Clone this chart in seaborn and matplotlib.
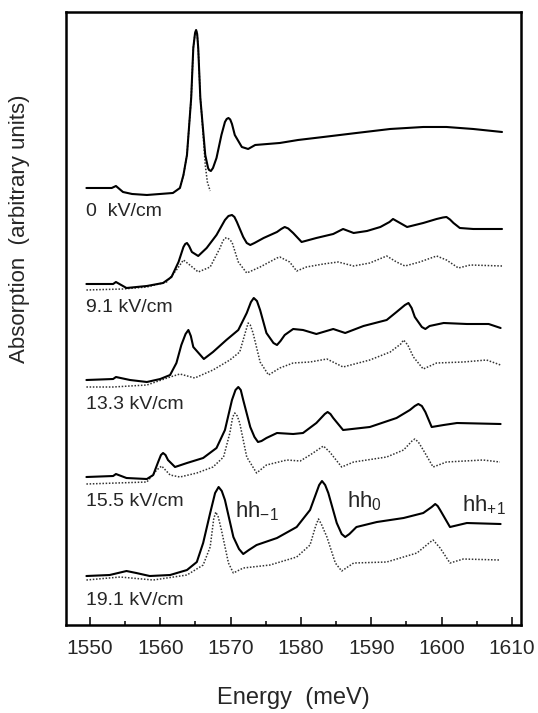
import matplotlib
matplotlib.use("Agg")
import matplotlib.pyplot as plt
from matplotlib.ticker import MultipleLocator
import seaborn as sns
import numpy as np

# field strengths and vertical offsets of the stacked spectra
fields = ["0  kV/cm", "9.1 kV/cm", "13.3 kV/cm", "15.5 kV/cm", "19.1 kV/cm"]
offsets = [4.37, 3.41, 2.45, 1.48, 0.49]

# 0 kV/cm
e0_solid = [1549.5, 1553.1, 1553.7, 1554.7, 1556.0, 1558.1, 1561.8, 1562.8, 1563.3, 1563.8,
            1564.4, 1564.7, 1564.95, 1565.1, 1565.25, 1565.4, 1565.7, 1566.4, 1566.8, 1566.95,
            1567.2, 1567.5, 1568.0, 1568.7, 1569.2, 1569.45, 1569.7, 1569.95, 1570.2, 1570.6,
            1571.6, 1572.5, 1573.5, 1577.0, 1579.6, 1583.2, 1587.9, 1592.7, 1597.4, 1600.7,
            1604.5, 1608.6]
a0_solid = [0.00, 0.00, 0.02, -0.04, -0.06, -0.07, -0.05, 0.00, 0.13, 0.33,
            0.90, 1.40, 1.55, 1.58, 1.54, 1.40, 0.90, 0.33, 0.20, 0.18,
            0.17, 0.20, 0.30, 0.53, 0.66, 0.69, 0.70, 0.685, 0.64, 0.53,
            0.41, 0.39, 0.43, 0.45, 0.48, 0.51, 0.55, 0.59, 0.61, 0.61,
            0.59, 0.56]
e0_dot = [1562.8, 1563.3, 1563.8, 1564.4, 1564.7, 1564.95, 1565.1, 1565.25, 1565.4, 1565.7,
          1565.9, 1566.4, 1566.7, 1567.1]
a0_dot = [0.00, 0.13, 0.33, 0.90, 1.40, 1.55, 1.58, 1.54, 1.40, 0.90,
          0.73, 0.23, 0.06, -0.03]

# 9.1 kV/cm
e1_solid = [1549.5, 1553.3, 1553.7, 1555.2, 1558.1, 1560.4, 1561.6, 1562.6, 1563.3, 1563.55,
            1563.8, 1564.1, 1564.5, 1565.4, 1566.6, 1568.0, 1569.2, 1569.7, 1570.2, 1570.55,
            1570.9, 1571.8, 1572.3, 1572.8, 1573.4, 1574.7, 1576.6, 1577.2, 1577.7, 1578.2,
            1578.9, 1580.1, 1582.2, 1584.6, 1586.0, 1587.5, 1589.4, 1591.3, 1592.6, 1593.1,
            1593.6, 1594.1, 1595.1, 1597.4, 1599.3, 1600.2, 1600.7, 1601.2, 1601.7, 1602.6,
            1604.5, 1608.6]
a1_solid = [0.00, 0.00, 0.02, -0.04, -0.02, 0.01, 0.07, 0.22, 0.37, 0.40,
            0.41, 0.38, 0.32, 0.28, 0.36, 0.49, 0.64, 0.68, 0.69, 0.67,
            0.62, 0.47, 0.41, 0.39, 0.41, 0.46, 0.52, 0.55, 0.57, 0.555,
            0.51, 0.42, 0.46, 0.50, 0.55, 0.51, 0.53, 0.57, 0.62, 0.65,
            0.63, 0.61, 0.57, 0.61, 0.65, 0.665, 0.67, 0.645, 0.61, 0.56,
            0.55, 0.55]
e1_dot = [1549.5, 1554.7, 1558.1, 1560.9, 1562.3, 1563.3, 1564.2, 1565.4, 1567.1, 1568.5,
          1568.9, 1569.2, 1569.6, 1570.2, 1571.1, 1572.3, 1574.2, 1576.6, 1577.0, 1578.4,
          1579.4, 1580.8, 1583.2, 1585.3, 1587.5, 1589.8, 1592.2, 1593.6, 1594.8, 1596.9,
          1599.3, 1600.7, 1602.4, 1604.1, 1608.6]
a1_dot = [-0.06, -0.05, -0.03, 0.02, 0.14, 0.24, 0.19, 0.12, 0.17, 0.36,
          0.43, 0.46, 0.46, 0.42, 0.22, 0.11, 0.17, 0.26, 0.27, 0.22,
          0.13, 0.17, 0.20, 0.22, 0.18, 0.21, 0.28, 0.22, 0.18, 0.22,
          0.28, 0.24, 0.16, 0.19, 0.18]

# 13.3 kV/cm
e2_solid = [1549.5, 1553.3, 1553.7, 1555.7, 1558.1, 1560.0, 1561.4, 1562.3, 1563.0, 1563.6,
            1564.0, 1564.35, 1564.7, 1566.2, 1567.5, 1569.4, 1571.1, 1572.3, 1572.9, 1573.3,
            1573.75, 1574.2, 1575.1, 1576.1, 1576.6, 1577.1, 1577.7, 1578.9, 1580.3, 1582.2,
            1584.6, 1586.3, 1588.9, 1592.2, 1593.6, 1594.8, 1595.3, 1595.75, 1596.2, 1597.2,
            1597.7, 1598.3, 1600.3, 1603.6, 1606.7, 1608.4]
a2_solid = [0.00, 0.01, 0.03, 0.00, -0.02, 0.01, 0.05, 0.17, 0.35, 0.46,
            0.50, 0.44, 0.33, 0.21, 0.28, 0.40, 0.50, 0.67, 0.78, 0.82,
            0.79, 0.70, 0.47, 0.37, 0.35, 0.39, 0.45, 0.51, 0.50, 0.46,
            0.51, 0.47, 0.54, 0.60, 0.68, 0.75, 0.77, 0.72, 0.63, 0.53,
            0.51, 0.54, 0.57, 0.56, 0.56, 0.52]
e2_dot = [1549.5, 1553.3, 1558.1, 1561.4, 1562.8, 1564.9, 1567.5, 1569.9, 1571.3, 1572.2,
          1572.5, 1572.8, 1573.2, 1574.2, 1575.4, 1577.0, 1578.9, 1581.3, 1583.7, 1586.0,
          1589.8, 1592.7, 1594.2, 1594.6, 1595.2, 1596.0, 1597.4, 1599.3, 1603.1, 1606.4,
          1608.4]
a2_dot = [-0.07, -0.07, -0.05, 0.03, 0.06, 0.02, 0.10, 0.20, 0.28, 0.50,
          0.57, 0.55, 0.47, 0.18, 0.05, 0.12, 0.17, 0.18, 0.21, 0.13,
          0.20, 0.28, 0.36, 0.40, 0.35, 0.23, 0.11, 0.17, 0.18, 0.20,
          0.15]

# 15.5 kV/cm
e3_solid = [1549.5, 1553.3, 1553.7, 1555.2, 1558.1, 1559.0, 1559.7, 1560.1, 1560.4, 1560.75,
            1561.1, 1562.1, 1563.8, 1566.1, 1568.0, 1569.2, 1570.2, 1570.7, 1571.1, 1571.45,
            1571.8, 1572.8, 1573.4, 1573.9, 1574.4, 1575.1, 1576.6, 1578.9, 1580.3, 1582.2,
            1583.4, 1583.8, 1584.2, 1584.6, 1586.0, 1589.8, 1593.6, 1595.5, 1596.2, 1596.7,
            1597.2, 1597.7, 1598.6, 1600.3, 1602.2, 1608.4]
a3_solid = [0.00, 0.01, 0.03, -0.01, -0.02, 0.02, 0.15, 0.22, 0.24, 0.22,
            0.17, 0.10, 0.14, 0.19, 0.29, 0.47, 0.77, 0.87, 0.90, 0.87,
            0.77, 0.50, 0.40, 0.35, 0.36, 0.39, 0.44, 0.43, 0.44, 0.54,
            0.63, 0.65, 0.63, 0.59, 0.47, 0.50, 0.59, 0.67, 0.71, 0.73,
            0.71, 0.65, 0.50, 0.52, 0.54, 0.53]
e3_dot = [1549.5, 1558.1, 1559.5, 1560.2, 1561.4, 1562.8, 1565.2, 1567.5, 1569.0, 1569.9,
          1570.3, 1570.6, 1570.95, 1571.3, 1572.3, 1573.7, 1575.1, 1578.0, 1579.9, 1581.3,
          1583.2, 1584.1, 1585.8, 1587.5, 1592.2, 1594.6, 1595.8, 1596.2, 1596.7, 1597.4,
          1598.8, 1600.7, 1605.9, 1608.3]
a3_dot = [-0.07, -0.05, 0.07, 0.11, 0.02, 0.00, 0.04, 0.10, 0.20, 0.44,
          0.60, 0.64, 0.61, 0.54, 0.20, 0.04, 0.12, 0.17, 0.16, 0.22,
          0.31, 0.25, 0.10, 0.15, 0.20, 0.27, 0.36, 0.38, 0.35, 0.27,
          0.10, 0.15, 0.17, 0.15]

# 19.1 kV/cm
e4_solid = [1549.5, 1552.8, 1555.2, 1556.6, 1558.5, 1561.4, 1563.8, 1565.2, 1566.1, 1567.1,
            1567.8, 1568.3, 1568.75, 1569.2, 1570.4, 1571.2, 1571.8, 1572.6, 1573.7, 1576.6,
            1579.4, 1581.3, 1582.6, 1583.0, 1583.45, 1583.9, 1585.1, 1585.8, 1586.3, 1586.9,
            1587.9, 1590.8, 1594.6, 1597.4, 1598.6, 1599.1, 1599.45, 1599.8, 1601.2, 1603.6,
            1608.4]
a4_solid = [0.00, 0.01, 0.05, 0.03, 0.00, 0.01, 0.06, 0.14, 0.33, 0.63,
            0.83, 0.89, 0.85, 0.76, 0.39, 0.27, 0.22, 0.26, 0.31, 0.38,
            0.49, 0.66, 0.91, 0.95, 0.91, 0.83, 0.53, 0.42, 0.39, 0.42,
            0.49, 0.54, 0.58, 0.63, 0.69, 0.72, 0.70, 0.66, 0.49, 0.53,
            0.52]
e4_dot = [1549.5, 1554.3, 1559.0, 1563.8, 1566.1, 1567.1, 1567.6, 1567.9, 1568.25, 1568.7,
          1569.7, 1570.4, 1571.8, 1575.6, 1579.4, 1581.3, 1582.1, 1582.5, 1582.9, 1583.7,
          1584.9, 1585.8, 1587.5, 1592.2, 1596.5, 1598.4, 1598.8, 1599.8, 1601.2, 1603.1,
          1608.3]
a4_dot = [-0.04, -0.01, -0.04, 0.01, 0.11, 0.29, 0.57, 0.64, 0.59, 0.46,
          0.13, 0.03, 0.08, 0.11, 0.19, 0.31, 0.50, 0.57, 0.52, 0.39,
          0.13, 0.05, 0.13, 0.14, 0.23, 0.34, 0.36, 0.28, 0.13, 0.17,
          0.16]

solid = [(e0_solid, a0_solid), (e1_solid, a1_solid), (e2_solid, a2_solid),
         (e3_solid, a3_solid), (e4_solid, a4_solid)]
dotted = [(e0_dot, a0_dot), (e1_dot, a1_dot), (e2_dot, a2_dot),
          (e3_dot, a3_dot), (e4_dot, a4_dot)]

# subband labels on the 19.1 kV/cm spectrum
hh_labels = ["hh$_{-1}$", "hh$_{0}$", "hh$_{+1}$"]
hh_energy = [1570.6, 1586.6, 1602.9]
hh_level = [1.08, 1.18, 1.14]

sns.set_style("white")
plt.rcParams["font.family"] = ["Liberation Sans", "DejaVu Sans"]
plt.rcParams["mathtext.default"] = "regular"

fig = plt.figure(figsize=(5.38, 7.13), dpi=100)
ax = fig.add_axes([0.1227, 0.1234, 0.8457, 0.8598])

for k in range(len(fields)):
    e, a = dotted[k]
    sns.lineplot(x=e, y=np.array(a) + offsets[k], ax=ax, color="#333333",
                 linewidth=1.1, linestyle=(0, (1, 1.1)), estimator=None, sort=False)
    e, a = solid[k]
    sns.lineplot(x=e, y=np.array(a) + offsets[k], ax=ax, color="black",
                 linewidth=1.5, estimator=None, sort=False,
                 solid_joinstyle="round", solid_capstyle="round")
    ax.text(1549.5, offsets[k] - 0.24, fields[k], fontsize=14, va="center", ha="left")

for lab, en, lv in zip(hh_labels, hh_energy, hh_level):
    ax.text(en, lv, lab, fontsize=16, ha="left", va="baseline")

ax.set_xlim(1546.6, 1611.3)
ax.set_ylim(0, 6.13)
ax.xaxis.set_major_locator(MultipleLocator(10))
ax.xaxis.set_minor_locator(MultipleLocator(5))
ax.tick_params(axis="x", which="major", direction="in", length=6, width=1.3,
               labelsize=15, pad=10, bottom=True, top=False)
ax.tick_params(axis="x", which="minor", direction="in", length=3, width=1.3,
               bottom=True, top=False)
ax.set_yticks([])
for sp in ax.spines.values():
    sp.set_linewidth(1.8)
    sp.set_color("black")

ax.set_xlabel("Energy  (meV)", fontsize=17, labelpad=21)
ax.set_ylabel("Absorption  (arbitrary units)", fontsize=16)
ax.yaxis.set_label_coords(-0.079, 0.646)

fig.savefig("out.png", dpi=100)
